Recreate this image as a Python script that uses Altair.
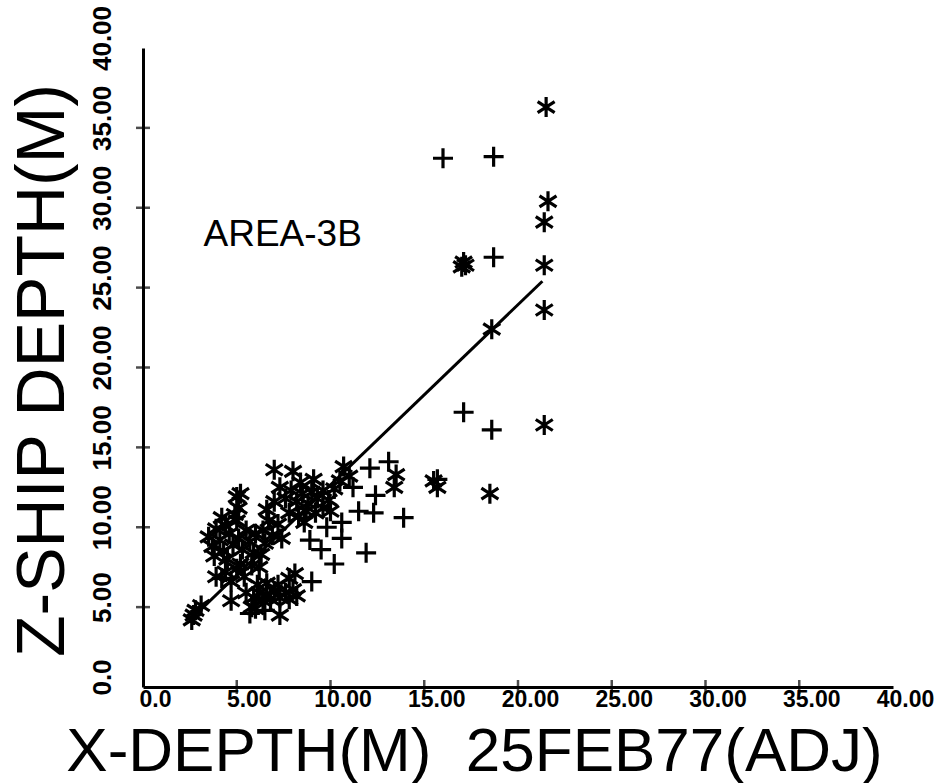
import altair as alt
import pandas as pd

# ---- data ----
star_x = [2.6, 2.8, 3.1, 2.7,
          3.5, 3.7, 3.9, 4.1, 4.3, 4.4, 4.6, 4.8, 5.0, 5.1, 5.3, 5.5, 5.7, 5.9, 3.8, 4.5, 5.2, 5.8, 6.0, 4.2, 4.9,
          5.0, 5.1, 5.2,
          3.9, 4.4, 4.7, 5.4, 5.0,
          4.7, 5.8, 5.5, 5.9, 6.2, 6.4, 6.6, 6.8, 7.0, 7.3, 7.3, 7.6, 7.8, 8.0, 8.2, 6.1, 6.6, 7.2, 7.8, 8.1, 6.0,
          6.3, 6.5, 6.4, 6.7, 6.9, 7.2, 6.6, 7.0, 6.2, 7.4,
          7.0, 8.0, 7.3, 7.6, 7.9, 8.2, 8.5, 8.8, 9.0, 9.3, 9.6, 9.9, 10.2, 10.5, 7.8, 8.3, 8.7, 9.2, 9.6, 10.0,
          10.7, 11.0, 8.4, 9.1, 8.6,
          13.5, 13.4, 15.5, 15.7,
          18.5, 18.6, 17.1, 17.0, 17.2, 21.4, 21.4, 21.4, 21.4, 21.6, 21.5]
star_y = [4.2, 4.8, 5.1, 4.5,
          9.4, 8.8, 9.9, 9.2, 8.5, 10.1, 9.6, 8.9, 10.4, 9.3, 8.6, 9.8, 9.1, 8.4, 8.2, 8.0, 7.7, 7.6, 9.6, 10.6, 10.8,
          11.9, 11.2, 12.1,
          6.9, 7.2, 6.6, 6.9, 7.4,
          5.4, 5.0, 5.9, 5.6, 5.9, 5.4, 5.8, 5.5, 6.0, 5.6, 4.5, 5.9, 5.5, 6.1, 5.7, 6.4, 6.5, 6.4, 6.8, 7.1, 4.9,
          8.3, 9.0, 9.8, 10.4, 9.5, 10.2, 11.1, 11.6, 7.5, 9.3,
          13.6, 13.5, 12.5, 11.8, 12.3, 11.6, 12.1, 11.5, 12.2, 11.8, 12.3, 11.7, 12.4, 12.9, 10.9, 10.7, 11.0, 10.9, 11.2, 11.0,
          13.8, 13.2, 12.8, 13.0, 10.3,
          13.3, 12.5, 12.9, 12.5,
          12.1, 22.4, 26.6, 26.3, 26.4, 16.4, 23.6, 26.4, 29.1, 30.4, 36.3]

plus_x = [5.7, 4.2, 9.0, 10.2, 11.9, 9.5, 8.9, 10.6, 10.6, 11.5, 12.3, 13.9, 12.4, 12.1, 13.1,
          15.7, 17.1, 18.6, 16.0, 18.7, 18.7, 6.5, 9.8, 11.2]
plus_y = [4.6, 6.8, 6.6, 7.7, 8.4, 8.6, 9.2, 9.3, 10.3, 11.0, 10.9, 10.6, 12.0, 13.7, 14.1,
          13.0, 17.2, 16.1, 33.1, 33.2, 26.9, 4.8, 10.0, 12.5]

fit_x = [2.6, 21.3]
fit_y = [4.3, 25.4]

tick_values = [5, 10, 15, 20, 25, 30, 35]
label_values = [0, 5, 10, 15, 20, 25, 30, 35, 40]

note_text = ["AREA-3B"]
note_x = [7.45]
note_y = [28.3]

PLUS = "M-1,0L1,0M0,-1L0,1"
STAR = "M0,-1L0,1M-0.85,-0.55L0.85,0.55M-0.85,0.55L0.85,-0.55"

pts = pd.DataFrame({
    "x": star_x + plus_x,
    "y": star_y + plus_y,
    "kind": ["star"] * len(star_x) + ["plus"] * len(plus_x),
})
fit = pd.DataFrame({"x": fit_x, "y": fit_y})
ticks = pd.DataFrame({"v": tick_values})
note = pd.DataFrame({"t": note_text, "x": note_x, "y": note_y})

LABEL_FONT = "Liberation Sans"
TITLE_FONT = "Liberation Sans"
lab_expr = "datum.value == 0 ? '0.0' : format(datum.value, '.2f')"

xscale = alt.Scale(domain=[0, 40], nice=False, zero=True)
yscale = alt.Scale(domain=[0, 40], nice=False, zero=True)

xaxis = alt.Axis(
    values=label_values, labelExpr=lab_expr, ticks=False, grid=False,
    labelFont=LABEL_FONT, labelFontSize=23, labelFontWeight="bold",
    labelAlign="center", labelBaseline="top", labelPadding=1, labelOffset=12,
    labelOverlap=False, labelFlush=False,
    title="X-DEPTH(M)\u00a0\u00a025FEB77(ADJ)", titleFont=TITLE_FONT, titleFontSize=62,
    titleFontWeight="normal", titleAlign="center", titleBaseline="alphabetic",
    titleX=331, titleY=83,
)
yaxis = alt.Axis(
    values=label_values, labelExpr=lab_expr, ticks=False, grid=False,
    labelFont=LABEL_FONT, labelFontSize=26, labelFontWeight="bold",
    labelAngle=270, labelAlign="center", labelBaseline="alphabetic",
    labelPadding=33, labelOffset=-10, labelOverlap=False, labelFlush=False,
    title="Z-SHIP DEPTH(M)", titleFont=TITLE_FONT, titleFontSize=68,
    titleFontWeight="normal", titleAngle=270, titleAlign="center",
    titleBaseline="alphabetic", titleX=-80, titleY=322,
)

points = alt.Chart(pts).mark_point(
    filled=False, color="black", strokeWidth=3.2, size=400, opacity=1
).encode(
    x=alt.X("x:Q", scale=xscale, axis=xaxis),
    y=alt.Y("y:Q", scale=yscale, axis=yaxis),
    shape=alt.Shape("kind:N", scale=alt.Scale(domain=["plus", "star"], range=[PLUS, STAR]), legend=None),
)

line = alt.Chart(fit).mark_line(color="black", strokeWidth=3).encode(
    x=alt.X("x:Q", scale=xscale), y=alt.Y("y:Q", scale=yscale)
)

xticks = alt.Chart(ticks).mark_tick(orient="vertical", color="black", size=14, thickness=2.5).encode(
    x=alt.X("v:Q", scale=xscale), y=alt.datum(0)
)
yticks = alt.Chart(ticks).mark_tick(orient="horizontal", color="black", size=14, thickness=2.5).encode(
    y=alt.Y("v:Q", scale=yscale), x=alt.datum(0)
)

label = alt.Chart(note).mark_text(
    font=TITLE_FONT, fontSize=37, color="black", align="center", baseline="middle"
).encode(x=alt.X("x:Q", scale=xscale), y=alt.Y("y:Q", scale=yscale), text="t:N")

chart = alt.layer(points, line, xticks, yticks, label).properties(
    width=750, height=639,
    autosize=alt.AutoSizeParams(type="none"),
    padding={"left": 143, "top": 48, "right": 51, "bottom": 96},
    background="white",
).configure_axis(
    domainColor="black", domainWidth=3, labelColor="black", titleColor="black"
).configure_view(stroke=None)

chart.save("out.html", embed_options={"renderer": "svg", "actions": False})
